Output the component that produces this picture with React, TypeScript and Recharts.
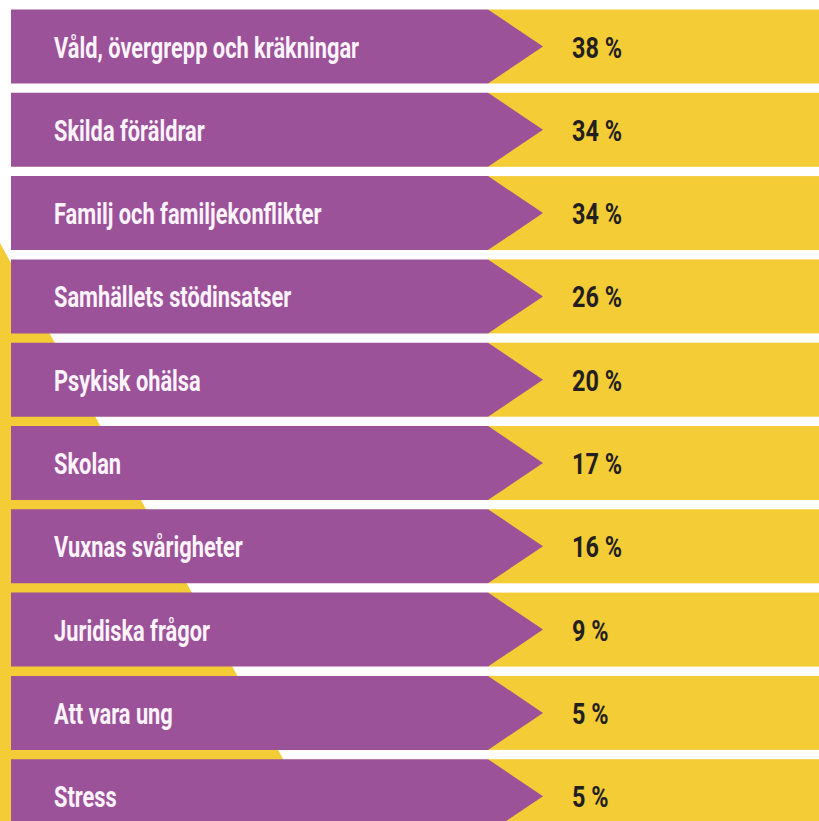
import React from "react";
import { BarChart, Bar, XAxis, YAxis, LabelList } from "recharts";

// Ämnen och andel (%)
const topics = [
	"Våld, övergrepp och kräkningar",
	"Skilda föräldrar",
	"Familj och familjekonflikter",
	"Samhällets stödinsatser",
	"Psykisk ohälsa",
	"Skolan",
	"Vuxnas svårigheter",
	"Juridiska frågor",
	"Att vara ung",
	"Stress",
];
const shares = [38, 34, 34, 26, 20, 17, 16, 9, 5, 5];

const data = topics.map((topic, i) => ({ topic, share: shares[i] }));

const PURPLE = "#9b5299";
const YELLOW = "#f3cc36";
const FONT = "Roboto, 'Liberation Sans', sans-serif";

const W = 819;
const H = 821;

// arrow-shaped row: purple label arrow + yellow value band
const RowShape = (props: any) => {
	const { x, y, height } = props;
	const rectEnd = 488;
	const tip = 543;
	const mid = y + height / 2;
	return (
		<g>
			<rect x={rectEnd} y={y} width={W - rectEnd} height={height} fill={YELLOW} />
			<polygon
				points={`${x},${y} ${rectEnd},${y} ${tip},${mid} ${rectEnd},${y + height} ${x},${y + height}`}
				fill={PURPLE}
			/>
		</g>
	);
};

const TopicLabel = (props: any) => {
	const { y, height, value } = props;
	const cy = y + height / 2 + 11;
	return (
		<text
			transform={`translate(54,${cy}) scale(0.727,1)`}
			fill="#fdf3fb"
			fontFamily={FONT}
			fontWeight={700}
			fontSize={30}
		>
			{value}
		</text>
	);
};

const ShareLabel = (props: any) => {
	const { y, height, value } = props;
	const cy = y + height / 2 + 11;
	return (
		<text
			transform={`translate(572,${cy}) scale(0.78,1)`}
			fill="#231f20"
			fontFamily={FONT}
			fontWeight={700}
			fontSize={30}
		>
			{`${value} %`}
		</text>
	);
};

export default function App() {
	return (
		<div
			style={{
				position: "absolute",
				left: 0,
				top: 0,
				width: W,
				height: H,
				overflow: "hidden",
				background: "#ffffff",
			}}
		>
			{/* yellow diagonal shape behind the rows */}
			<svg
				width={W}
				height={H}
				style={{ position: "absolute", left: 0, top: 0 }}
			>
				<polygon points="0,243 333,850 0,850" fill={YELLOW} />
			</svg>
			<div style={{ position: "absolute", left: 0, top: 0 }}>
				<BarChart
					width={W}
					height={845}
					data={data}
					layout="vertical"
					margin={{ top: 5, right: 0, bottom: 7, left: 11 }}
					barCategoryGap={4.5}
				>
					<XAxis type="number" domain={[0, 40]} hide />
					<YAxis type="category" dataKey="topic" hide />
					<Bar dataKey="share" shape={<RowShape />} isAnimationActive={false}>
						<LabelList dataKey="topic" content={<TopicLabel />} />
						<LabelList dataKey="share" content={<ShareLabel />} />
					</Bar>
				</BarChart>
			</div>
		</div>
	);
}
